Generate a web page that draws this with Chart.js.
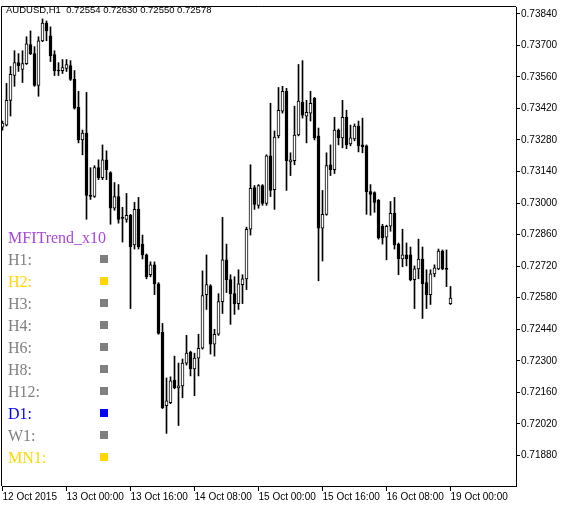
<!DOCTYPE html>
<html><head><meta charset="utf-8">
<script src="https://cdn.jsdelivr.net/npm/chart.js@4"></script>
<style>html,body{margin:0;padding:0;background:#fff;}#wrap{width:568px;height:506px;}</style>
</head><body><div id="wrap"><canvas id="c" width="568" height="506"></canvas></div>
<script>
const symbolTitle = "AUDUSD,H1  0.72554 0.72630 0.72550 0.72578";
const opens = [0.73337,0.73346,0.73456,0.73566,0.73623,0.73593,0.73619,0.73703,0.73663,0.73522,
0.73720,0.73799,0.73742,0.73659,0.73588,0.73588,0.73597,0.73610,0.73549,0.73425,
0.73280,0.73311,0.73034,0.73029,0.73157,0.73113,0.73192,0.73135,0.72977,0.73029,
0.72933,0.72928,0.72946,0.72814,0.72972,0.72818,0.72770,0.72682,0.72726,0.72642,
0.72427,0.72101,0.72114,0.72215,0.72180,0.72189,0.72290,0.72339,0.72264,0.72312,
0.72356,0.72594,0.72633,0.72374,0.72418,0.72563,0.72748,0.72660,0.72598,0.72554,
0.72638,0.72664,0.72884,0.73069,0.72990,0.73078,0.72999,0.73210,0.73060,0.73298,
0.73408,0.73496,0.73183,0.73188,0.73302,0.73447,0.73386,0.73399,0.73465,0.73298,
0.72889,0.72950,0.73170,0.73148,0.73324,0.73289,0.73381,0.73263,0.73285,0.73342,
0.73258,0.73254,0.73051,0.73047,0.73012,0.72897,0.72849,0.72897,0.72955,0.72818,
0.72752,0.72770,0.72770,0.72660,0.72708,0.72752,0.72647,0.72594,0.72686,0.72708,
0.72787,0.72708,0.72554];
const highs = [0.73364,0.73531,0.73606,0.73676,0.73663,0.73676,0.73738,0.73764,0.73694,0.73738,
0.73817,0.73808,0.73782,0.73676,0.73623,0.73637,0.73637,0.73632,0.73588,0.73496,
0.73324,0.73491,0.73157,0.73166,0.73192,0.73258,0.73232,0.73139,0.73091,0.73082,
0.72981,0.73043,0.72950,0.73003,0.73025,0.72858,0.72774,0.72739,0.72739,0.72647,
0.72466,0.72224,0.72229,0.72321,0.72290,0.72308,0.72413,0.72343,0.72334,0.72418,
0.72699,0.72770,0.72638,0.72440,0.72598,0.72937,0.72818,0.72682,0.72673,0.72704,
0.72682,0.72893,0.73170,0.73078,0.73082,0.73082,0.73214,0.73443,0.73320,0.73513,
0.73518,0.73509,0.73223,0.73430,0.73615,0.73632,0.73456,0.73496,0.73469,0.73333,
0.73056,0.73223,0.73258,0.73381,0.73329,0.73456,0.73412,0.73346,0.73351,0.73364,
0.73377,0.73258,0.73082,0.73050,0.73016,0.72906,0.72902,0.73007,0.73025,0.72823,
0.72884,0.72823,0.72805,0.72721,0.72840,0.72805,0.72704,0.72704,0.72726,0.72796,
0.72792,0.72792,0.72630];
const lows = [0.73324,0.73342,0.73386,0.73518,0.73584,0.73535,0.73615,0.73659,0.73518,0.73474,
0.73716,0.73720,0.73628,0.73566,0.73566,0.73575,0.73584,0.73544,0.73417,0.73267,
0.73214,0.72928,0.73016,0.73025,0.73104,0.73104,0.73104,0.72906,0.72968,0.72911,
0.72827,0.72915,0.72532,0.72796,0.72796,0.72752,0.72664,0.72673,0.72594,0.72418,
0.72088,0.71978,0.72110,0.72176,0.72013,0.72136,0.72281,0.72233,0.72145,0.72233,
0.72352,0.72528,0.72330,0.72321,0.72413,0.72510,0.72603,0.72462,0.72506,0.72528,
0.72554,0.72616,0.72858,0.72972,0.72977,0.72990,0.72990,0.73029,0.72972,0.73289,
0.73399,0.73056,0.73122,0.73170,0.73298,0.73377,0.73267,0.73364,0.73280,0.72655,
0.72743,0.72946,0.73122,0.73131,0.73258,0.73245,0.73241,0.73254,0.73276,0.73227,
0.73223,0.72950,0.72946,0.72959,0.72840,0.72818,0.72748,0.72875,0.72796,0.72682,
0.72717,0.72721,0.72655,0.72532,0.72664,0.72488,0.72532,0.72550,0.72673,0.72704,
0.72704,0.72629,0.72550];
const closes = [0.73355,0.73456,0.73571,0.73623,0.73610,0.73619,0.73707,0.73663,0.73522,0.73720,
0.73799,0.73764,0.73654,0.73588,0.73586,0.73601,0.73615,0.73549,0.73421,0.73280,
0.73311,0.73034,0.73029,0.73157,0.73113,0.73192,0.73148,0.72977,0.73029,0.72928,
0.72932,0.72946,0.72805,0.72972,0.72805,0.72770,0.72673,0.72726,0.72642,0.72422,
0.72092,0.72123,0.72211,0.72180,0.72189,0.72290,0.72334,0.72264,0.72312,0.72356,
0.72589,0.72638,0.72374,0.72418,0.72563,0.72748,0.72660,0.72598,0.72554,0.72642,
0.72664,0.72884,0.73065,0.72994,0.73078,0.72999,0.73210,0.73056,0.73293,0.73412,
0.73496,0.73188,0.73192,0.73302,0.73452,0.73390,0.73403,0.73443,0.73289,0.72889,
0.72950,0.73166,0.73148,0.73324,0.73289,0.73381,0.73258,0.73289,0.73342,0.73254,
0.73249,0.73051,0.73038,0.73003,0.72845,0.72845,0.72897,0.72955,0.72814,0.72752,
0.72770,0.72752,0.72660,0.72708,0.72752,0.72642,0.72594,0.72686,0.72713,0.72787,
0.72708,0.72706,0.72578];
const xTickIndex = [0,16,32,48,64,80,96,112];
const xTickLabels = ["12 Oct 2015","13 Oct 00:00","13 Oct 16:00","14 Oct 08:00","15 Oct 00:00","15 Oct 16:00","16 Oct 08:00","19 Oct 00:00"];
const yTicks = [0.73840,0.73700,0.73560,0.73420,0.73280,0.73140,0.73000,0.72860,0.72720,0.72580,0.72440,0.72300,0.72160,0.72020,0.71880];
const indicatorName = "MFITrend_x10";
const indicatorColor = "#A846E0";
const tfNames = ["H1:","H2:","H3:","H4:","H6:","H8:","H12:","D1:","W1:","MN1:"];
const tfColors = ["#808080","#FFD700","#808080","#808080","#808080","#808080","#808080","#0000FF","#808080","#FFD700"];

const idx = opens.map((_, i) => i);
const wickData = idx.map(i => ({x: i, y: [lows[i], highs[i]]}));
const bodyData = idx.map(i => ({x: i, y: [opens[i], closes[i]]}));

const overlay = {
  id: 'overlay',
  afterDraw(chart) {
    const {ctx, chartArea: a} = chart;
    ctx.save();
    ctx.strokeStyle = '#000'; ctx.lineWidth = 1;
    ctx.beginPath();
    ctx.moveTo(a.left - 0.5, a.bottom);
    ctx.lineTo(a.left - 0.5, a.top - 0.5);
    ctx.lineTo(a.right, a.top - 0.5);
    ctx.stroke();
    ctx.textBaseline = 'alphabetic';
    ctx.textAlign = 'left';
    ctx.font = '9.5px "Liberation Sans"';
    ctx.fillStyle = '#000';
    ctx.fillText(symbolTitle, 6, 13);
    ctx.font = '16px "Liberation Serif"';
    ctx.fillStyle = indicatorColor;
    ctx.fillText(indicatorName, 8, 243);
    tfNames.forEach((n, k) => {
      ctx.fillStyle = tfColors[k];
      ctx.fillText(n, 8, 265 + 22 * k);
      ctx.fillRect(100, 255 + 22 * k, 8, 8);
    });
    ctx.restore();
  }
};

new Chart(document.getElementById('c'), {
  type: 'bar',
  data: { datasets: [
    { label: 'wick', data: wickData, backgroundColor: '#000', borderWidth: 0, barThickness: 1, grouped: false, order: 2 },
    { label: 'body', data: bodyData,
      backgroundColor: c => (closes[c.dataIndex] >= opens[c.dataIndex] ? '#fff' : '#000'),
      borderColor: '#000', borderWidth: 1, borderSkipped: false, barThickness: 3, minBarLength: 1, grouped: false, order: 1 }
  ]},
  options: {
    responsive: false, animation: false, devicePixelRatio: 1,
    layout: { padding: { left: 2, top: 4, right: 0, bottom: 0 } },
    plugins: { legend: { display: false }, tooltip: { enabled: false } },
    scales: {
      x: {
        type: 'linear', min: -0.125, max: 128.375, offset: false, bounds: 'data',
        afterBuildTicks: s => { s.ticks = xTickIndex.map(v => ({ value: v })); },
        afterFit: s => { s.height = 20; },
        ticks: { align: 'start', padding: 0, maxRotation: 0, autoSkip: false, color: '#000',
          font: { family: 'Liberation Sans', size: 10 },
          callback: v => { const k = xTickIndex.indexOf(v); return k >= 0 ? xTickLabels[k] : ''; } },
        grid: { drawOnChartArea: false, drawTicks: true, tickLength: 5, color: '#000', offset: false },
        border: { display: true, color: '#000', width: 1 }
      },
      y: {
        type: 'linear', position: 'right', min: 0.717446, max: 0.73870, bounds: 'data',
        afterBuildTicks: s => { s.ticks = yTicks.map(v => ({ value: v })); },
        afterFit: s => { s.width = 52; },
        ticks: { padding: 1, color: '#000', font: { family: 'Liberation Sans', size: 10 },
          callback: v => Number(v).toFixed(5) },
        grid: { drawOnChartArea: false, drawTicks: true, tickLength: 4, color: '#000' },
        border: { display: true, color: '#000', width: 1 }
      }
    }
  },
  plugins: [overlay]
});
</script></body></html>
